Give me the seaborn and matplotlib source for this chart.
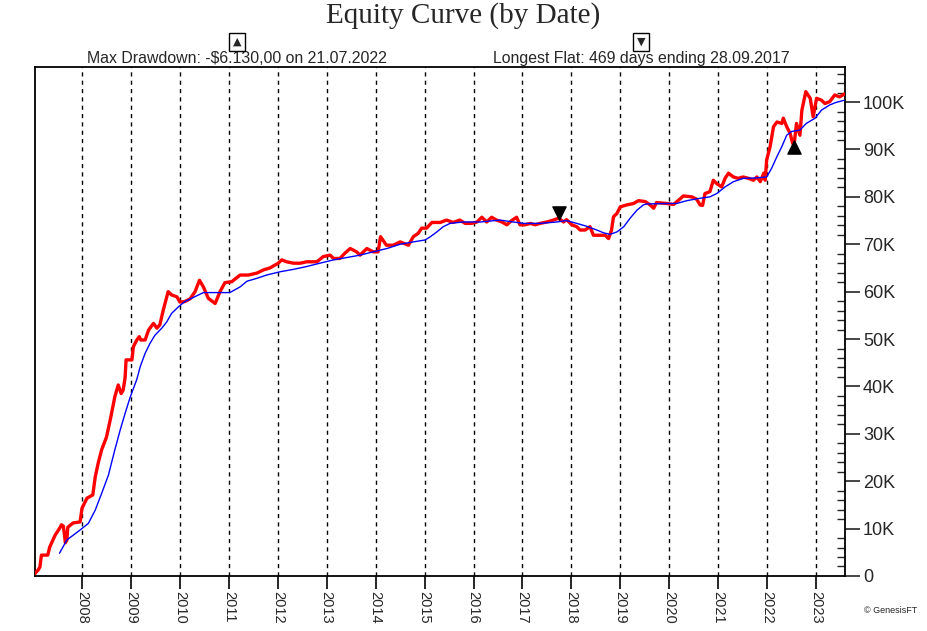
import matplotlib
matplotlib.use("Agg")
import matplotlib.pyplot as plt
import matplotlib.ticker as mticker
import pandas as pd
import seaborn as sns

# equity curve (decimal year, equity in $K)
red_t = [2007.04, 2007.06, 2007.10, 2007.14, 2007.17, 2007.30, 2007.34, 2007.45, 2007.55, 2007.58,
         2007.62, 2007.66, 2007.69, 2007.71, 2007.82, 2007.96, 2008.00, 2008.10, 2008.22, 2008.27,
         2008.33, 2008.40, 2008.50, 2008.59, 2008.67, 2008.74, 2008.80, 2008.84, 2008.88, 2008.90,
         2009.02, 2009.05, 2009.12, 2009.17, 2009.20, 2009.29, 2009.36, 2009.46, 2009.53, 2009.59,
         2009.66, 2009.76, 2009.83, 2009.94, 2010.00, 2010.10, 2010.21, 2010.31, 2010.40, 2010.48,
         2010.58, 2010.72, 2010.82, 2010.92, 2011.06, 2011.23, 2011.40, 2011.57, 2011.71, 2011.84,
         2012.01, 2012.08, 2012.18, 2012.32, 2012.46, 2012.59, 2012.80, 2012.93, 2013.07, 2013.14,
         2013.27, 2013.37, 2013.48, 2013.61, 2013.68, 2013.82, 2013.95, 2014.05, 2014.10, 2014.22,
         2014.36, 2014.50, 2014.67, 2014.77, 2014.87, 2014.94, 2015.04, 2015.15, 2015.32, 2015.45,
         2015.58, 2015.72, 2015.83, 2015.96, 2016.07, 2016.17, 2016.27, 2016.37, 2016.47, 2016.58,
         2016.68, 2016.78, 2016.88, 2016.95, 2017.05, 2017.16, 2017.26, 2017.36, 2017.50, 2017.63,
         2017.74, 2017.84, 2017.90, 2018.01, 2018.11, 2018.18, 2018.28, 2018.38, 2018.45, 2018.59,
         2018.69, 2018.76, 2018.82, 2018.86, 2018.93, 2019.00, 2019.13, 2019.27, 2019.37, 2019.51,
         2019.61, 2019.68, 2019.74, 2019.95, 2020.09, 2020.19, 2020.29, 2020.46, 2020.56, 2020.63,
         2020.68, 2020.73, 2020.83, 2020.90, 2020.97, 2021.07, 2021.14, 2021.21, 2021.31, 2021.41,
         2021.51, 2021.62, 2021.72, 2021.79, 2021.86, 2021.93, 2021.96, 2021.99, 2022.06, 2022.13,
         2022.20, 2022.30, 2022.33, 2022.40, 2022.47, 2022.52, 2022.55, 2022.60, 2022.67, 2022.71,
         2022.79, 2022.88, 2022.94, 2023.01, 2023.11, 2023.18, 2023.28, 2023.38, 2023.48, 2023.58]
red_v = [0.5, 0.8, 1.2, 1.9, 4.4, 4.4, 6.1, 8.6, 10.2, 10.8,
         10.5, 7.0, 7.6, 10.3, 11.2, 11.4, 14.3, 16.4, 17.1, 20.9,
         23.8, 26.6, 29.3, 33.6, 37.8, 40.3, 38.5, 39.2, 41.8, 45.6,
         45.6, 48.4, 49.8, 50.5, 49.8, 49.8, 51.9, 53.3, 52.3, 53.0,
         56.1, 60.0, 59.3, 58.9, 57.8, 57.9, 58.5, 60.0, 62.4, 61.0,
         58.6, 57.5, 60.0, 61.9, 62.1, 63.5, 63.5, 63.9, 64.6, 65.0,
         66.0, 66.7, 66.3, 66.0, 66.0, 66.3, 66.3, 67.4, 67.7, 67.0,
         67.0, 68.1, 69.1, 68.4, 67.7, 69.1, 68.4, 68.4, 71.6, 69.8,
         69.8, 70.5, 69.8, 71.6, 72.3, 73.4, 73.4, 74.6, 74.6, 75.1,
         74.6, 75.1, 74.4, 74.4, 74.7, 75.7, 74.7, 75.7, 75.1, 74.7,
         74.1, 75.0, 75.7, 74.1, 74.1, 74.4, 74.1, 74.4, 74.7, 75.1,
         75.5, 74.7, 75.2, 74.1, 73.7, 73.0, 73.0, 73.7, 71.9, 71.9,
         71.9, 71.2, 73.0, 75.8, 76.5, 77.9, 78.3, 78.6, 79.2, 79.0,
         78.3, 77.6, 78.8, 78.6, 78.4, 79.3, 80.2, 80.0, 79.5, 78.3,
         78.2, 80.7, 81.1, 83.5, 82.8, 82.1, 83.9, 85.0, 84.2, 83.9,
         84.2, 83.9, 83.5, 84.2, 83.2, 85.0, 83.5, 87.8, 90.6, 94.8,
         95.8, 95.5, 96.6, 94.8, 93.4, 91.3, 91.0, 95.5, 93.0, 98.3,
         102.2, 100.8, 96.9, 100.8, 100.4, 99.7, 100.1, 101.5, 101.1, 101.7]

# moving average of equity (decimal year, $K)
avg_t = [2007.54, 2007.69, 2007.96, 2008.13, 2008.27, 2008.40, 2008.54, 2008.67, 2008.78, 2008.88,
         2008.98, 2009.12, 2009.19, 2009.29, 2009.39, 2009.49, 2009.63, 2009.73, 2009.83, 2009.97,
         2010.10, 2010.24, 2010.48, 2011.02, 2011.23, 2011.37, 2011.57, 2011.77, 2012.05, 2012.32,
         2012.59, 2012.86, 2013.14, 2013.41, 2013.68, 2013.95, 2014.23, 2014.50, 2014.77, 2015.01,
         2015.12, 2015.25, 2015.38, 2015.52, 2015.79, 2016.14, 2016.54, 2016.81, 2017.02, 2017.36,
         2017.70, 2017.90, 2018.11, 2018.31, 2018.52, 2018.66, 2018.79, 2018.93, 2019.07, 2019.20,
         2019.34, 2019.47, 2019.54, 2019.95, 2020.15, 2020.36, 2020.63, 2020.83, 2020.97, 2021.14,
         2021.31, 2021.51, 2021.78, 2021.99, 2022.09, 2022.20, 2022.30, 2022.40, 2022.50, 2022.67,
         2022.80, 2022.98, 2023.11, 2023.28, 2023.40, 2023.58]
avg_v = [4.8, 7.6, 9.7, 11.1, 13.9, 17.4, 21.3, 26.6, 30.8, 34.3,
         37.6, 41.5, 44.2, 47.0, 49.1, 50.8, 52.3, 53.6, 55.4, 56.8,
         57.9, 58.6, 59.8, 59.8, 61.0, 62.2, 62.8, 63.5, 64.2, 64.7,
         65.3, 66.0, 66.7, 67.2, 67.7, 68.4, 69.1, 70.0, 70.5, 70.9,
         71.6, 72.6, 73.7, 74.4, 74.7, 74.7, 75.1, 74.7, 74.4, 74.4,
         74.7, 75.0, 74.4, 73.8, 73.0, 72.4, 72.1, 72.6, 73.7, 75.5,
         77.2, 78.3, 78.5, 78.6, 78.6, 79.2, 79.7, 80.0, 80.7, 82.1,
         83.2, 83.9, 84.0, 84.2, 86.0, 88.5, 90.6, 93.0, 93.8, 94.1,
         95.5, 96.6, 98.3, 99.4, 99.9, 100.4]

# markers: max drawdown (21.07.2022) and end of longest flat (28.09.2017)
dd_t, dd_v = [2022.55], [90.6]
flat_t, flat_v = [2017.74], [76.6]

years = list(range(2008, 2024))

red = pd.DataFrame({"t": red_t, "v": [v * 1000 for v in red_v]})
avg = pd.DataFrame({"t": avg_t, "v": [v * 1000 for v in avg_v]})

sns.set_style("white")
plt.rcParams["font.family"] = ["Liberation Sans", "DejaVu Sans"]

fig = plt.figure(figsize=(9.27, 6.31), dpi=100)
ax = fig.add_axes([0.0378, 0.0872, 0.8737, 0.8066])

# year gridlines
for y in years:
    ax.axvline(y, color="black", lw=1, ls=(0, (3, 3)), zorder=1)

sns.lineplot(data=red, x="t", y="v", color="#ff0000", lw=2.4, estimator=None, ax=ax, zorder=3)
sns.lineplot(data=avg, x="t", y="v", color="#0000ff", lw=1.0, estimator=None, ax=ax, zorder=4)
ax.scatter(dd_t, [v * 1000 for v in dd_v], marker="^", s=90, color="black", zorder=5)
ax.scatter(flat_t, [v * 1000 for v in flat_v], marker="v", s=90, color="black", zorder=5)

ax.set_xlim(2007.04, 2023.59)
ax.set_ylim(0, 107400)
ax.set_xlabel("")
ax.set_ylabel("")

for s in ax.spines.values():
    s.set_visible(True)
    s.set_color("black")
    s.set_linewidth(1.3)

ax.set_xticks(years)
ax.set_xticklabels([str(y) for y in years], rotation=270, fontsize=10.5)
ax.tick_params(axis="x", direction="out", length=9.5, width=1.2, color="black", pad=1, bottom=True)

ax.yaxis.tick_right()
ax.yaxis.set_major_locator(mticker.MultipleLocator(10000))
ax.yaxis.set_minor_locator(mticker.MultipleLocator(2000))
ax.yaxis.set_major_formatter(mticker.FuncFormatter(lambda v, p: "0" if v == 0 else f"{int(v / 1000)}K"))
ax.tick_params(axis="y", which="major", direction="out", length=11, width=1.2, labelsize=13, pad=2,
               right=True, left=False)
ax.tick_params(axis="y", which="minor", direction="in", length=6, width=1.0, right=True, left=False)

fig.text(0.5, 0.975, "Equity Curve (by Date)", ha="center", va="center",
         fontsize=21, family="Liberation Serif")
fig.text(0.2557, 0.907, "Max Drawdown: -$6.130,00 on 21.07.2022", ha="center", va="center", fontsize=11.4)
fig.text(0.6915, 0.907, "Longest Flat: 469 days ending 28.09.2017", ha="center", va="center", fontsize=11.4)
box = dict(boxstyle="square,pad=0.35", fc="white", ec="black", lw=1)
fig.text(0.2557, 0.934, "\u25B2", ha="center", va="center", fontsize=8, bbox=box, family="DejaVu Sans")
fig.text(0.6915, 0.934, "\u25BC", ha="center", va="center", fontsize=8, bbox=box, family="DejaVu Sans")
fig.text(0.961, 0.032, "\u00A9 GenesisFT", ha="center", va="center", fontsize=6.5)

fig.savefig("out.png", dpi=100, facecolor="white")
